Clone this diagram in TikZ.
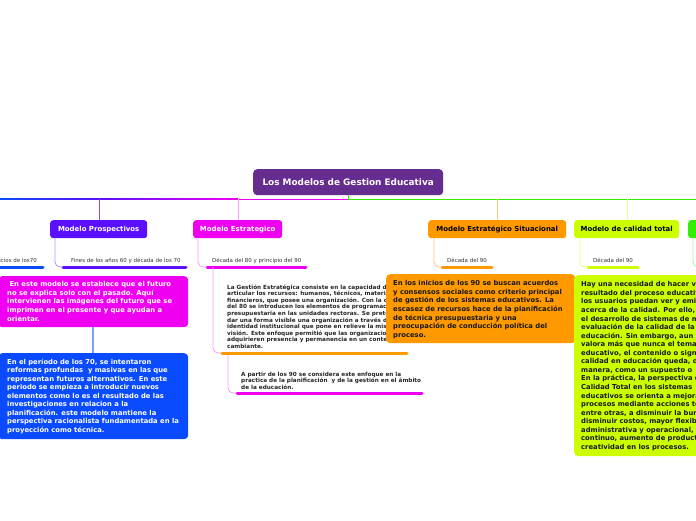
\documentclass[tikz,border=0pt]{standalone}
\usepackage{fontspec}
\setmainfont{DejaVu Sans}
\definecolor{ttl}{HTML}{662D91}
\definecolor{pros}{HTML}{5A0FFF}
\definecolor{prosl}{HTML}{AA99FF}
\definecolor{estr}{HTML}{F000F0}
\definecolor{estrl}{HTML}{F7A0F7}
\definecolor{orng}{HTML}{FF9900}
\definecolor{orngl}{HTML}{FFC680}
\definecolor{cal}{HTML}{CCFF00}
\definecolor{call}{HTML}{E6FF8C}
\definecolor{grn}{HTML}{33EE00}
\definecolor{grnl}{HTML}{AAF5AA}
\definecolor{blu}{HTML}{0A4BFF}
\definecolor{blul}{HTML}{7F9FFF}
\definecolor{lbl}{HTML}{333333}
\begin{document}
\begin{tikzpicture}[x=1pt,y=-1pt,
  branch/.style={rounded corners=3pt, inner sep=0pt, anchor=north west,
    font=\bfseries\fontsize{6.95}{8}\selectfont},
  fillbox/.style={rounded corners=4pt, inner sep=0pt, anchor=north west},
  body/.style={inner sep=0pt, anchor=north west, align=left,
    font=\bfseries\fontsize{6.8}{8.55}\selectfont},
  small/.style={inner sep=0pt, anchor=north west, align=left, text=black!85,
    font=\bfseries\fontsize{5.7}{6.6}\selectfont},
  sublabel/.style={inner sep=0pt, anchor=base west, text=lbl,
    font=\fontsize{5.5}{6}\selectfont},
  uline/.style={line width=3pt, line cap=round},
  conn/.style={line width=0.9pt, rounded corners=5pt},
]
\clip (0,0) rectangle (696,520);

% main horizontal line
\shade[left color=blu, right color=pros] (0,198.5) rectangle (99,199.6);
\shade[left color=pros, right color=estr] (99,198.5) rectangle (238,199.6);
\fill[estr] (238,198.5) rectangle (348,199.6);
\fill[grn] (348,198.5) rectangle (696,199.6);

% title
\node[fill=ttl, rounded corners=4pt, minimum width=190pt, minimum height=26pt,
  inner sep=0pt, anchor=north west, text=white,
  font=\bfseries\fontsize{8.9}{10}\selectfont] (title) at (253,169) {Los Modelos de Gestion Educativa};
\coordinate (tj) at (348,199);
\draw[grn, line width=0.9pt] (title.south -| tj) -- (tj);

% branch boxes
\node[branch, fill=pros, text=white, minimum width=97pt, minimum height=18pt] (pros) at (50,220) {Modelo Prospectivos};
\node[branch, fill=estr, text=white, minimum width=89pt, minimum height=18pt] (estr) at (193,220) {Modelo Estrategico};
\node[branch, fill=orng, text=black, minimum width=138pt, minimum height=18pt] (orng) at (428,220) {Modelo Estratégico Situacional};
\node[branch, fill=cal, text=black, minimum width=105pt, minimum height=18pt] (cal) at (574,220) {Modelo de calidad total};
\node[branch, fill=grn, text=black, minimum width=60pt, minimum height=18pt] (grnb) at (688,220) {\hspace*{12pt}Modelo};

% connectors from main line
\coordinate (jp) at (99,199);
\coordinate (je) at (238,199);
\coordinate (jo) at (497,199);
\coordinate (jc) at (627,199);
\draw[conn, color=pros!75] (jp) -- (pros.north -| jp);
\draw[conn, color=estrl] (je) -- (estr.north -| je);
\draw[conn, color=orngl] (jo) -- (orng.north -| jo);
\draw[conn, color=call] (jc) -- (cal.north -| jc);

% far left sublabel
\node[sublabel, anchor=base east] (l0) at (37,262) {Inicios de los70};
\coordinate (u0a) at (-5,267); \coordinate (u0b) at (43,267);
\draw[uline, blu] (u0a) -- (u0b);

% sublabels
\node[sublabel] (l1) at (71,262) {Fines de los años 60 y década de los 70};
\coordinate (u1a) at (63,267); \coordinate (u1b) at (186,267);
\draw[uline, pros] (u1a) -- (u1b);
\coordinate (s1) at (55,238);
\draw[conn, prosl] (s1) |- (u1a);

\node[sublabel] (l2) at (212,262) {Década del 80 y principio del 90};
\coordinate (u2a) at (207,267); \coordinate (u2b) at (306,267);
\draw[uline, estr] (u2a) -- (u2b);
\coordinate (s2) at (198,238);
\draw[conn, estrl] (s2) |- (u2a);

\node[sublabel] (l3) at (447,262) {Década del 90};
\coordinate (u3a) at (442,267); \coordinate (u3b) at (492,267);
\draw[uline, orng] (u3a) -- (u3b);
\coordinate (s3) at (434,238);
\draw[conn, orngl] (s3) |- (u3a);

\node[sublabel] (l4) at (593,262) {Década del 90};
\coordinate (u4a) at (588,267); \coordinate (u4b) at (638,267);
\draw[uline, cal] (u4a) -- (u4b);
\coordinate (s4) at (580,238);
\draw[conn, call] (s4) |- (u4a);

\coordinate (s5) at (693,238);
\coordinate (u5a) at (703,267);
\draw[conn, grnl] (s5) |- (u5a);

% Prospectivos boxes
\node[fillbox, fill=estr, minimum width=190pt, minimum height=51pt] (mbox) at (-2,276) {};
\node[body, text=white] (mtxt) at (7,281.5) {\ En este modelo se establece que el futuro\\no se explica solo con el pasado. Aquí\\intervienen las imágenes del futuro que se\\imprimen en el presente y que ayudan a\\orientar.};
\node[fillbox, fill=blu, minimum width=190pt, minimum height=86pt] (bbox) at (-2,353) {};
\node[body, text=white] (btxt) at (7,358.5) {En el período de los 70, se intentaron\\reformas profundas \ y masivas en las que\\representan futuros alternativos. En este\\periodo se empieza a introducir nuevos\\elementos como lo es el resultado de las\\investigaciones en relacion a la\\planificación. este modelo mantiene la\\perspectiva racionalista fundamentada en la\\proyección como técnica.};
\draw[line width=1.2pt, blul] (mbox.south -| 93,0) -- (bbox.north -| 93,0);

% Estrategico texts
\node[small] (gtxt) at (227,284.3) {La Gestión Estratégica consiste en la capacidad de\\articular los recursos: humanos, técnicos, materiales y\\financieros, que posee una organización. Con la crisis\\del 80 se introducen los elementos de programación\\presupuestaria en las unidades rectoras. Se pretende\\dar una forma visible una organización a través de su\\identidad institucional que pone en relieve la misión y\\visión. Este enfoque permitió que las organizaciones\\adquirieren presencia y permanencia en un contexto\\cambiante.};
\coordinate (u6a) at (222,353); \coordinate (u6b) at (407,353);
\coordinate (s6) at (213,267);
\draw[conn, estrl] (s6) |- (u6a);
\draw[uline, orng] (u6a) -- (u6b);

\node[small] (atxt) at (241,371.5) {A partir de los 90 se considera este enfoque en la\\practica de la planificación \ y de la gestión en el ámbito\\de la educación.};
\coordinate (u7a) at (237,393); \coordinate (u7b) at (422,393);
\coordinate (s7) at (228,355);
\draw[conn, estrl] (s7) |- (u7a);
\draw[uline, estr] (u7a) -- (u7b);

% Situacional box
\node[fillbox, fill=orng, minimum width=189pt, minimum height=69pt] (obox) at (386,274) {};
\node[body, text=black!90] (otxt) at (393,280.5) {En los inicios de los 90 se buscan acuerdos\\y consensos sociales como criterio principal\\de gestión de los sistemas educativos. La\\escasez de recursos hace de la planificación\\de técnica presupuestaria y una\\preocupación de conducción política del\\proceso.};

% Calidad box
\node[fillbox, fill=cal, minimum width=140pt, minimum height=181pt] (cbox) at (574,275) {};
\node[body, text=black!90] (ctxt) at (581,281.5) {Hay una necesidad de hacer visible el\\resultado del proceso educativo para que\\los usuarios puedan ver y emitir juicios\\acerca de la calidad. Por ello, se insiste en\\el desarrollo de sistemas de medición y\\evaluación de la calidad de la\\educación. Sin embargo, aun cuando se\\valora más que nunca el tema\\educativo, el contenido o significado de la\\calidad en educación queda, de alguna\\manera, como un supuesto o\\En la práctica, la perspectiva de la\\Calidad Total en los sistemas\\educativos se orienta a mejorar los\\procesos mediante acciones tendientes,\\entre otras, a disminuir la burocracia,\\disminuir costos, mayor flexibilidad\\administrativa y operacional, mejora\\continuo, aumento de productividad,\\creatividad en los procesos.};
\end{tikzpicture}
\end{document}
